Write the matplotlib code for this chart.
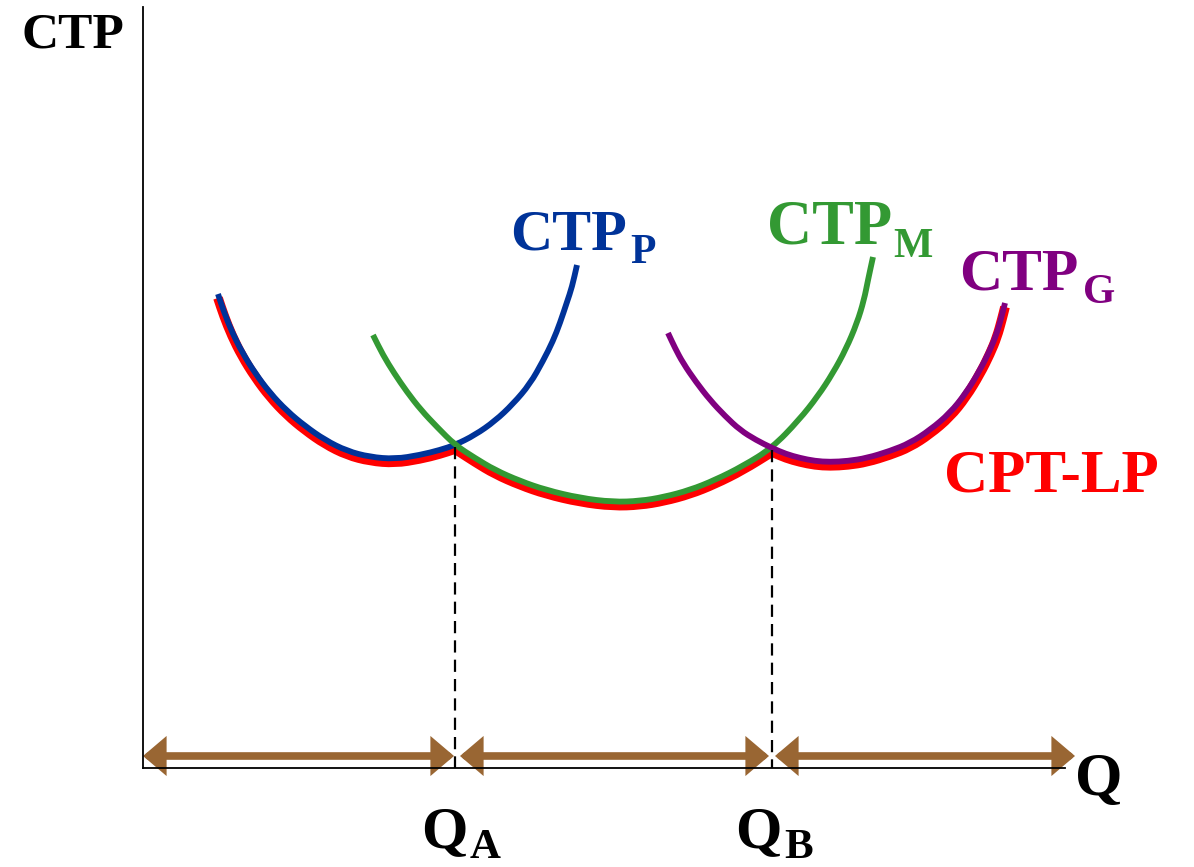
import matplotlib
matplotlib.use("Agg")
import matplotlib.pyplot as plt
import matplotlib.transforms as mtransforms
from matplotlib.path import Path
from matplotlib.patches import FancyArrowPatch, PathPatch

# Кривые CTP, точки (x, y в пикселях, y вниз)
ctp_p_x = [218, 224, 232, 242, 255, 270, 287, 305, 325, 347, 370, 395, 420, 440, 455,
           475, 495, 513, 530, 543, 553, 560, 567, 572, 577]
ctp_p_y = [294, 312, 332, 352, 373, 393, 411, 426, 440, 451, 457, 459, 455, 450, 445,
           435, 421, 404, 384, 361, 341, 323, 302, 287, 265]

ctp_m_x = [373, 383, 394, 407, 421, 437, 455, 475, 495, 520, 546, 580, 613, 640, 664,
           690, 715, 743, 772, 799, 818, 833, 846, 857, 864, 868, 873]
ctp_m_y = [335, 355, 373, 392, 410, 427, 445, 458, 470, 481, 490, 498, 502, 501, 497,
           490, 480, 466, 448, 420, 396, 373, 349, 323, 300, 280, 257]

ctp_g_x = [668, 675, 683, 696, 710, 725, 740, 756, 772, 786, 800, 815, 830, 848, 867,
           890, 910, 930, 950, 966, 980, 990, 997, 1002, 1005]
ctp_g_y = [333, 348, 363, 382, 400, 416, 430, 440, 448, 454, 458, 461, 462, 461, 458,
           451, 443, 430, 413, 393, 370, 350, 333, 315, 303]

q_a = 455
q_b = 772

BLUE = '#003399'
GREEN = '#339933'
PURPLE = '#800080'
RED = '#ff0000'
BROWN = '#996633'
FONT = 'Liberation Serif'


def smooth(xs, ys):
    # сглаженная линия через снятые точки (квадратичные кривые Безье)
    pts = list(zip(xs, ys))
    verts = [pts[0]]
    codes = [Path.MOVETO]
    if len(pts) > 2:
        verts.append(((pts[0][0] + pts[1][0]) / 2, (pts[0][1] + pts[1][1]) / 2))
        codes.append(Path.LINETO)
        for i in range(1, len(pts) - 1):
            nxt = pts[i + 1]
            verts += [pts[i], ((pts[i][0] + nxt[0]) / 2, (pts[i][1] + nxt[1]) / 2)]
            codes += [Path.CURVE3, Path.CURVE3]
    verts.append(pts[-1])
    codes.append(Path.LINETO)
    return verts, codes


fig = plt.figure(figsize=(11.94, 8.67), dpi=100)
ax = fig.add_axes([0, 0, 1, 1])
ax.set_xlim(0, 1194)
ax.set_ylim(867, 0)
ax.axis('off')

# оси
ax.plot([143, 143], [7, 768], color='black', lw=1.3)
ax.plot([143, 1065], [768, 768], color='black', lw=1.3)

# огибающая CPT-LP (красная, чуть ниже)
env_v, env_c = [], []
for xs, ys, lo, hi in [(ctp_p_x, ctp_p_y, 0, q_a), (ctp_m_x, ctp_m_y, q_a, q_b),
                       (ctp_g_x, ctp_g_y, q_b, 2000)]:
    px = [x for x in xs if lo <= x <= hi]
    py = [y for x, y in zip(xs, ys) if lo <= x <= hi]
    v, c = smooth(px, py)
    if env_c:
        c[0] = Path.LINETO
    env_v += v
    env_c += c
shift = mtransforms.offset_copy(ax.transData, fig=fig, x=0, y=-4, units='dots')
ax.add_patch(PathPatch(Path(env_v, env_c), fill=False, edgecolor=RED, lw=7,
                       capstyle='butt', joinstyle='miter', transform=shift))

for xs, ys, col in [(ctp_p_x, ctp_p_y, BLUE), (ctp_m_x, ctp_m_y, GREEN),
                    (ctp_g_x, ctp_g_y, PURPLE)]:
    v, c = smooth(xs, ys)
    ax.add_patch(PathPatch(Path(v, c), fill=False, edgecolor=col, lw=4.2,
                           capstyle='butt', joinstyle='round'))

# пунктир
for q, yq in [(q_a, 447), (q_b, 450)]:
    ax.plot([q, q], [yq, 768], color='black', lw=1.6, dashes=(5.5, 3.2))

# стрелки
for a, b in [(143, 454), (460, 769), (775, 1075)]:
    arr = FancyArrowPatch((a, 756), (b, 756),
                          arrowstyle='<|-|>,head_length=10,head_width=8.5',
                          mutation_scale=1, lw=5.5, color=BROWN,
                          shrinkA=0, shrinkB=0, joinstyle='miter')
    ax.add_patch(arr)


def label(x, y, s, sub, xs, ys, color, size=42, subsize=29, sub_va='baseline'):
    ax.text(x, y, s, color=color, fontsize=size, fontweight='bold',
            family=FONT, va='baseline', ha='left')
    ax.text(xs, ys, sub, color=color, fontsize=subsize, fontweight='bold',
            family=FONT, va=sub_va, ha='left')


ax.text(21, 47, 'CTP', fontsize=37, fontweight='bold', family=FONT, va='baseline')
label(510, 250, 'CTP', 'P', 630, 263, BLUE, 42, 30)
label(767, 243, 'CTP', 'M', 893, 257, GREEN, 45, 30)
label(959, 290, 'CTP', 'G', 1083, 303, PURPLE, 43, 30)
ax.text(944, 492, 'CPT-LP', color=RED, fontsize=44, fontweight='bold',
        family=FONT, va='baseline')
ax.text(1075, 795, 'Q', fontsize=44, fontweight='bold', family=FONT, va='baseline')
label(421, 847, 'Q', 'A', 470, 867, 'black', 43, 31, 'bottom')
label(735, 847, 'Q', 'B', 784, 867, 'black', 43, 31, 'bottom')

plt.savefig('out.png', dpi=100)
